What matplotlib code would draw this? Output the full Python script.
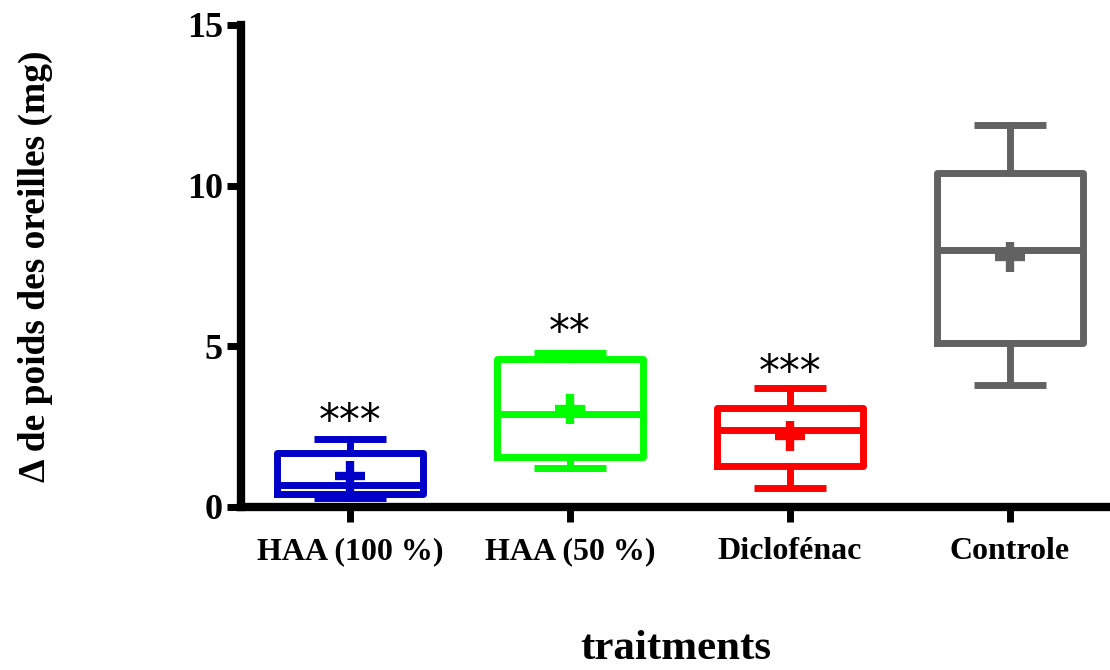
import matplotlib
matplotlib.use("Agg")
import matplotlib.pyplot as plt

# ---- data ----
categories = ["HAA (100 %)", "HAA (50 %)", "Diclofénac", "Controle"]
whisker_low = [0.26, 1.20, 0.59, 3.78]
q1 = [0.40, 1.56, 1.27, 5.11]
median = [0.68, 2.88, 2.39, 7.98]
q3 = [1.68, 4.59, 3.08, 10.39]
whisker_high = [2.10, 4.80, 3.69, 11.89]
mean = [0.96, 3.04, 2.20, 7.79]
signif = ["***", "**", "***", ""]
signif_y = [2.65, 5.42, 4.17, 0.0]
colors = ["#0000C8", "#00FF00", "#FF0000", "#626262"]
y_ticks = [0, 5, 10, 15]

serif = ["Liberation Serif", "DejaVu Serif"]

fig = plt.figure(figsize=(11.1, 6.7), dpi=100)
ax = fig.add_axes([0.217, 0.2437, 0.783, 0.719])

positions = list(range(1, len(categories) + 1))
for i, pos in enumerate(positions):
    stats = [{
        "med": median[i], "q1": q1[i], "q3": q3[i],
        "whislo": whisker_low[i], "whishi": whisker_high[i],
        "mean": mean[i], "fliers": [],
    }]
    c = colors[i]
    ax.bxp(stats, positions=[pos], widths=0.664, capwidths=0.33,
           showmeans=True, showfliers=False,
           boxprops=dict(color=c, linewidth=5.0, solid_joinstyle="round"),
           whiskerprops=dict(color=c, linewidth=5.0),
           capprops=dict(color=c, linewidth=5.0, solid_capstyle="butt"),
           medianprops=dict(color=c, linewidth=5.0, solid_capstyle="butt"),
           meanprops=dict(marker="+", markeredgecolor=c, markersize=21,
                          markeredgewidth=6))
    if signif[i]:
        ax.text(pos, signif_y[i], signif[i], ha="center", va="center",
                fontsize=30, family="DejaVu Sans", color="black")

ax.set_xlim(0.5045, 4.4545)
ax.set_ylim(0, 15)
ax.set_yticks(y_ticks)
ax.set_yticklabels([str(t) for t in y_ticks], family=serif,
                   fontweight="bold", fontsize=26)
ax.set_xticks(positions)
ax.set_xticklabels(categories, family=serif, fontweight="bold", fontsize=23)

for side in ["top", "right"]:
    ax.spines[side].set_visible(False)
for side in ["left", "bottom"]:
    ax.spines[side].set_linewidth(6)
    ax.spines[side].set_color("black")
ax.spines["left"].set_capstyle("projecting")
ax.tick_params(axis="y", direction="out", length=10, width=5, pad=3)
ax.tick_params(axis="x", direction="out", length=11, width=5, pad=11)

ax.set_ylabel("Δ de poids des oreilles (mg)", family=serif,
              fontweight="bold", fontsize=27, labelpad=96)
ax.set_xlabel("traitments", family=serif, fontweight="bold",
              fontsize=31, labelpad=46)

fig.savefig("out.png", dpi=100)
